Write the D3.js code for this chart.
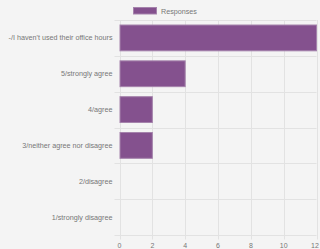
<!DOCTYPE html>
<html lang="en">
<head>
<meta charset="UTF-8">
<title>Responses</title>
<script src="https://d3js.org/d3.v7.min.js"></script>
<style>
  html, body { margin: 0; padding: 0; background: #f4f4f4; }
  svg { display: block; font-family: "Liberation Sans", Arial, sans-serif; }
</style>
</head>
<body>
<svg id="chart"></svg>
<script>
    const width = 320;
    const height = 249;

    const categories = [
        "-/I haven't used their office hours",
        "5/strongly agree",
        "4/agree",
        "3/neither agree nor disagree",
        "2/disagree",
        "1/strongly disagree"
    ];
    const responses = [12, 4, 2, 2, 0, 0];
    const xTicks = [0, 2, 4, 6, 8, 10, 12];

    const margin = { top: 20, right: 3.5, bottom: 14, left: 119.5 };
    const svg = d3.select("#chart").attr("width", width).attr("height", height);

    const x = d3.scaleLinear().domain([0, 12]).range([margin.left, width - margin.right]);
    const y = d3.scaleBand().domain(categories).range([margin.top, height - margin.bottom]);
    const inner = y.bandwidth() * 0.72;

    const grid = svg.append("g").attr("stroke", "#e2e2e2").attr("stroke-width", 1);

    // vertical gridlines (with tick extension below)
    grid.selectAll(".vx").data(xTicks).enter().append("line")
        .attr("x1", d => Math.round(x(d)) + 0.5).attr("x2", d => Math.round(x(d)) + 0.5)
        .attr("y1", margin.top).attr("y2", height - margin.bottom + 4.5);

    // horizontal gridlines at band edges
    const edges = categories.map(c => y(c)).concat([y(categories[categories.length - 1]) + y.bandwidth()]);
    grid.selectAll(".hy").data(edges).enter().append("line")
        .attr("x1", margin.left - 5).attr("x2", width - margin.right)
        .attr("y1", d => Math.round(d) + 0.5).attr("y2", d => Math.round(d) + 0.5);

    // bars
    svg.append("g").selectAll("rect").data(responses).enter().append("rect")
        .attr("x", x(0) + 0.5)
        .attr("y", (d, i) => y(categories[i]) + (y.bandwidth() - inner) / 2)
        .attr("width", d => Math.max(0, x(d) - x(0) - 0.5))
        .attr("height", inner)
        .attr("fill", "#84518e")
        .attr("stroke", d => d > 0 ? "#a583ac" : "none")
        .attr("stroke-width", 1);

    // category labels
    svg.append("g").selectAll("text").data(categories).enter().append("text")
        .attr("x", margin.left - 7)
        .attr("y", d => y(d) + y.bandwidth() / 2)
        .attr("dy", "0.35em")
        .attr("text-anchor", "end")
        .attr("font-size", 7.2)
        .attr("fill", "#777")
        .text(d => d);

    // x tick labels
    svg.append("g").selectAll("text").data(xTicks).enter().append("text")
        .attr("x", d => Math.min(x(d), width - 5))
        .attr("y", height - margin.bottom + 10.5)
        .attr("dy", "0.35em")
        .attr("text-anchor", "middle")
        .attr("font-size", 7)
        .attr("fill", "#777")
        .text(d => d);

    // legend
    const legend = svg.append("g");
    legend.append("rect")
        .attr("x", 133.5).attr("y", 7.5).attr("width", 23).attr("height", 6.5)
        .attr("fill", "#84518e").attr("stroke", "#a583ac").attr("stroke-width", 1);
    legend.append("text")
        .attr("x", 161).attr("y", 11)
        .attr("dy", "0.35em")
        .attr("font-size", 7.2)
        .attr("fill", "#777")
        .text("Responses");
</script>
</body>
</html>
